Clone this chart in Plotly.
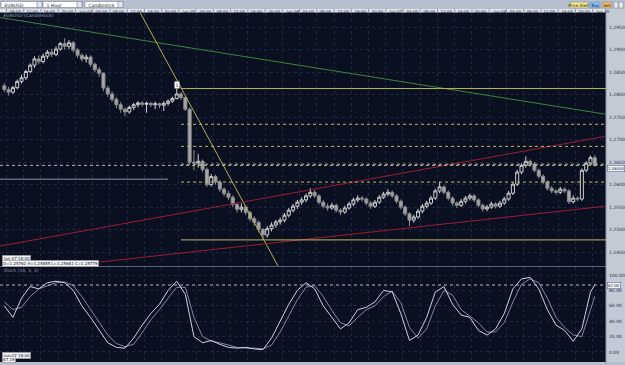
import plotly.graph_objects as go

# ---------------- data ----------------
bars = list(range(138))
opens = [1.2820,1.2812,1.2806,1.2816,1.2830,1.2838,1.2852,1.2866,1.2880,1.2874,
         1.2886,1.2895,1.2890,1.2902,1.2914,1.2908,1.2916,1.2900,1.2888,1.2880,
         1.2884,1.2868,1.2856,1.2848,1.2815,1.2802,1.2790,1.2778,1.2768,1.2762,
         1.2772,1.2778,1.2782,1.2779,1.2781,1.2778,1.2780,1.2777,1.2781,1.2786,
         1.2792,1.2802,1.2794,1.2768,1.2650,1.2648,1.2652,1.2634,1.2600,1.2618,
         1.2606,1.2590,1.2580,1.2572,1.2556,1.2545,1.2550,1.2538,1.2524,1.2516,
         1.2500,1.2488,1.2502,1.2510,1.2517,1.2521,1.2532,1.2543,1.2552,1.2561,
         1.2566,1.2575,1.2583,1.2575,1.2561,1.2552,1.2548,1.2554,1.2543,1.2539,
         1.2548,1.2557,1.2566,1.2570,1.2568,1.2559,1.2552,1.2561,1.2572,1.2579,
         1.2583,1.2575,1.2563,1.2550,1.2535,1.2521,1.2528,1.2541,1.2552,1.2559,
         1.2570,1.2586,1.2595,1.2583,1.2570,1.2559,1.2554,1.2563,1.2570,1.2575,
         1.2566,1.2554,1.2546,1.2550,1.2557,1.2552,1.2559,1.2568,1.2581,1.2601,
         1.2628,1.2643,1.2652,1.2646,1.2632,1.2619,1.2606,1.2592,1.2586,1.2583,
         1.2590,1.2586,1.2562,1.2570,1.2568,1.2632,1.2648,1.2660]
highs = [1.2826,1.2818,1.2820,1.2834,1.2845,1.2856,1.2870,1.2886,1.2888,1.2892,
         1.2900,1.2903,1.2908,1.2918,1.2926,1.2922,1.2920,1.2904,1.2893,1.2890,
         1.2888,1.2872,1.2862,1.2850,1.2820,1.2808,1.2795,1.2784,1.2772,1.2776,
         1.2782,1.2786,1.2786,1.2785,1.2784,1.2785,1.2783,1.2786,1.2790,1.2796,
         1.2814,1.2806,1.2796,1.2772,1.2677,1.2668,1.2656,1.2638,1.2624,1.2622,
         1.2610,1.2594,1.2586,1.2576,1.2560,1.2558,1.2554,1.2542,1.2530,1.2520,
         1.2504,1.2508,1.2516,1.2522,1.2527,1.2537,1.2548,1.2557,1.2566,1.2572,
         1.2580,1.2592,1.2588,1.2579,1.2566,1.2558,1.2560,1.2558,1.2547,1.2553,
         1.2562,1.2571,1.2576,1.2575,1.2572,1.2563,1.2566,1.2577,1.2584,1.2590,
         1.2587,1.2579,1.2567,1.2554,1.2539,1.2533,1.2546,1.2557,1.2564,1.2575,
         1.2591,1.2606,1.2599,1.2587,1.2574,1.2563,1.2568,1.2575,1.2580,1.2579,
         1.2570,1.2558,1.2555,1.2562,1.2561,1.2564,1.2573,1.2586,1.2606,1.2633,
         1.2648,1.2663,1.2656,1.2650,1.2636,1.2623,1.2610,1.2597,1.2590,1.2595,
         1.2594,1.2590,1.2576,1.2574,1.2636,1.2652,1.2665,1.2666]
lows = [1.2806,1.2798,1.2802,1.2812,1.2825,1.2833,1.2848,1.2860,1.2868,1.2870,
        1.2880,1.2884,1.2886,1.2898,1.2900,1.2902,1.2894,1.2882,1.2874,1.2872,
        1.2862,1.2850,1.2840,1.2808,1.2795,1.2784,1.2770,1.2760,1.2752,1.2758,
        1.2766,1.2772,1.2774,1.2760,1.2773,1.2768,1.2770,1.2764,1.2776,1.2782,
        1.2790,1.2788,1.2764,1.2645,1.2632,1.2638,1.2628,1.2595,1.2596,1.2600,
        1.2584,1.2574,1.2566,1.2550,1.2538,1.2538,1.2532,1.2518,1.2508,1.2494,
        1.2477,1.2482,1.2496,1.2504,1.2511,1.2516,1.2527,1.2538,1.2546,1.2555,
        1.2561,1.2570,1.2570,1.2556,1.2547,1.2542,1.2544,1.2538,1.2532,1.2535,
        1.2544,1.2552,1.2561,1.2562,1.2554,1.2546,1.2548,1.2557,1.2568,1.2574,
        1.2570,1.2558,1.2545,1.2530,1.2508,1.2515,1.2524,1.2536,1.2547,1.2555,
        1.2566,1.2581,1.2578,1.2565,1.2553,1.2548,1.2550,1.2558,1.2565,1.2561,
        1.2549,1.2540,1.2541,1.2546,1.2547,1.2548,1.2555,1.2564,1.2577,1.2597,
        1.2623,1.2638,1.2640,1.2627,1.2614,1.2601,1.2587,1.2581,1.2578,1.2579,
        1.2581,1.2557,1.2558,1.2563,1.2564,1.2628,1.2644,1.2640]
closes = [1.2812,1.2806,1.2816,1.2830,1.2838,1.2852,1.2866,1.2880,1.2874,1.2886,
          1.2895,1.2890,1.2902,1.2914,1.2908,1.2916,1.2900,1.2888,1.2880,1.2884,
          1.2868,1.2856,1.2848,1.2815,1.2802,1.2790,1.2778,1.2768,1.2762,1.2772,
          1.2778,1.2782,1.2779,1.2781,1.2778,1.2780,1.2777,1.2781,1.2786,1.2792,
          1.2802,1.2794,1.2768,1.2650,1.2648,1.2652,1.2634,1.2600,1.2618,1.2606,
          1.2590,1.2580,1.2572,1.2556,1.2545,1.2550,1.2538,1.2524,1.2516,1.2500,
          1.2488,1.2502,1.2510,1.2517,1.2521,1.2532,1.2543,1.2552,1.2561,1.2566,
          1.2575,1.2583,1.2575,1.2561,1.2552,1.2548,1.2554,1.2543,1.2539,1.2548,
          1.2557,1.2566,1.2570,1.2568,1.2559,1.2552,1.2561,1.2572,1.2579,1.2583,
          1.2575,1.2563,1.2550,1.2535,1.2521,1.2528,1.2541,1.2552,1.2559,1.2570,
          1.2586,1.2595,1.2583,1.2570,1.2559,1.2554,1.2563,1.2570,1.2575,1.2566,
          1.2554,1.2546,1.2550,1.2557,1.2552,1.2559,1.2568,1.2581,1.2601,1.2628,
          1.2643,1.2652,1.2646,1.2632,1.2619,1.2606,1.2592,1.2586,1.2583,1.2590,
          1.2586,1.2562,1.2570,1.2568,1.2632,1.2648,1.2660,1.2643]

stoch_x = [0,2,4,6,8,10,12,14,16,18,20,22,24,26,28,30,32,34,36,38,40,42,44,46,48,
           50,52,54,56,58,60,62,64,66,68,70,72,74,76,78,80,82,84,86,88,90,92,94,96,
           98,100,102,104,106,108,110,112,114,116,118,120,122,124,126,128,130,132,
           134,136,137]
stoch_k = [60,45,70,85,82,90,92,90,80,60,45,28,12,6,5,18,35,50,62,80,92,75,20,12,15,
           10,6,5,6,4,3,18,40,62,80,90,82,60,45,30,38,55,58,65,80,78,50,15,22,
           45,78,85,62,48,45,28,22,30,50,82,95,97,82,55,35,28,14,
           30,78,87]
stoch_d = [65,55,58,72,82,86,90,91,86,72,55,38,22,11,7,10,25,42,55,70,84,84,45,20,14,
           12,9,6,5,5,4,9,26,48,68,84,86,72,54,38,34,45,55,60,72,79,64,32,18,
           30,60,80,74,55,46,38,26,26,38,65,88,95,90,70,45,32,22,
           20,55,72]

time_labels = ["08:00","12:00","16:00","20:00","Jun 04","04:00",
               "08:00","12:00","16:00","20:00","Jun 05","04:00",
               "08:00","12:00","16:00","20:00","Jun 06","04:00",
               "08:00","12:00","16:00","20:00","Jun 07","04:00",
               "08:00","12:00","16:00","20:00","Jun 08","04:00",
               "08:00","12:00","16:00","20:00","Jun 10"]
price_ticks = [1.2950,1.2900,1.2850,1.2800,1.2750,1.2700,1.2650,1.2600,1.2550,1.2500,1.2450]
stoch_ticks = [100,80,60,40,20,0]

# drawn objects (bar index, price)
green_line = [(-1, 1.29722), (139.6, 1.27567)]
yellow_line = [(31.5, 1.29833), (63.5, 1.24189)]
red_line1 = [(-1, 1.24633), (139.6, 1.27078)]
red_line2 = [(13.85, 1.24189), (139.6, 1.25522)]
left_level = [(-1, 1.26122), (38, 1.26122)]
fib_start_bar = 41
fib_high = 1.28140
fib_low = 1.24770
fib_ratios = [0.0, 0.236, 0.382, 0.5, 0.618, 1.0]
stoch_period = "Stoch (14, 3, 3)"

# ---------------- layout helpers ----------------
W, H = 625, 365
X_RANGE = [-1, 139.6]
def px(p):
    return p / W
def py(p):
    return 1 - p / H

BG = "#0b1021"
GRID = "#1c2640"
FONT = "DejaVu Sans"

fig = go.Figure()
fig.add_trace(go.Candlestick(
    x=bars, open=opens, high=highs, low=lows, close=closes,
    increasing=dict(line=dict(color="#d0d0d0", width=1), fillcolor=BG),
    decreasing=dict(line=dict(color="#8e8e8e", width=1), fillcolor="#a8a8a8"),
    whiskerwidth=0, xaxis="x", yaxis="y", hoverinfo="skip", showlegend=False))

fig.add_trace(go.Scatter(x=stoch_x, y=stoch_d, mode="lines", line=dict(color="#7f88a8", width=1),
                         xaxis="x2", yaxis="y2", showlegend=False, hoverinfo="skip"))
fig.add_trace(go.Scatter(x=stoch_x, y=stoch_k, mode="lines", line=dict(color="#cfd2de", width=1),
                         xaxis="x2", yaxis="y2", showlegend=False, hoverinfo="skip"))

grid_x = [4 * k + 0.5 for k in range(len(time_labels))]

shapes = []
# background panels
shapes.append(dict(type="rect", xref="paper", yref="paper", x0=0, x1=1, y0=py(9), y1=1,
                   fillcolor="#b7bfce", line=dict(width=0), layer="below"))
shapes.append(dict(type="rect", xref="paper", yref="paper", x0=0, x1=px(606), y0=py(12.5), y1=py(9),
                   fillcolor="#dfe3ea", line=dict(width=0), layer="below"))
shapes.append(dict(type="rect", xref="paper", yref="paper", x0=px(606), x1=1, y0=0, y1=py(9),
                   fillcolor="#c4c9d6", line=dict(width=0), layer="below"))
shapes.append(dict(type="rect", xref="paper", yref="paper", x0=0, x1=1, y0=0, y1=py(362),
                   fillcolor="#b7bfce", line=dict(width=0), layer="below"))
shapes.append(dict(type="line", xref="paper", yref="paper", x0=0, x1=px(606), y0=py(266.5), y1=py(266.5),
                   line=dict(color="#59627c", width=1)))
shapes.append(dict(type="line", xref="paper", yref="paper", x0=px(606), x1=px(606), y0=0, y1=py(9),
                   line=dict(color="#8e95a8", width=1)))
# header separators
for gx in grid_x:
    shapes.append(dict(type="line", xref="x", yref="paper", x0=gx, x1=gx, y0=py(12.5), y1=py(9),
                       line=dict(color="#8d94a6", width=1)))
# toolbar boxes
for (a, b) in [(1, 42), (43, 82), (85, 123)]:
    shapes.append(dict(type="rect", xref="paper", yref="paper", x0=px(a), x1=px(b), y0=py(7.5), y1=py(1.5),
                       fillcolor="#ffffff", line=dict(color="#7b8296", width=0.6)))
    shapes.append(dict(type="rect", xref="paper", yref="paper", x0=px(b - 5), x1=px(b), y0=py(7.5), y1=py(1.5),
                       fillcolor="#e3e6ee", line=dict(color="#7b8296", width=0.6)))
for (a, b, c) in [(570, 588, "#f3e58a"), (590, 600, "#7fc0f2"), (602, 612, "#f3b86a"),
                  (614, 618, "#e9ebf0"), (619, 623, "#e9ebf0")]:
    shapes.append(dict(type="rect", xref="paper", yref="paper", x0=px(a), x1=px(b), y0=py(8), y1=py(2),
                       fillcolor=c, line=dict(color="#8a8f9e", width=0.6)))

def seg(pts, color, width=1, dash="solid"):
    (x0, y0), (x1, y1) = pts
    return dict(type="line", xref="x", yref="y", x0=x0, y0=y0, x1=x1, y1=y1,
                line=dict(color=color, width=width, dash=dash))

shapes.append(seg(green_line, "#3d8638"))
shapes.append(seg(yellow_line, "#b3ae58"))
shapes.append(seg(red_line1, "#9a1e32"))
shapes.append(seg(red_line2, "#9a1e32"))
shapes.append(seg(left_level, "#8e94a4"))
for r in fib_ratios:
    lvl = fib_high - (fib_high - fib_low) * r
    solid = r in (0.0, 1.0)
    shapes.append(seg([(fib_start_bar, lvl), (X_RANGE[1], lvl)], "#bdb862", 1, "solid" if solid else "dot"))
# current price line
shapes.append(seg([(X_RANGE[0], closes[-1]), (X_RANGE[1], closes[-1])], "#b4b8c6", 1, "dot"))
# stoch current line
shapes.append(dict(type="line", xref="x2", yref="y2", x0=X_RANGE[0], x1=X_RANGE[1],
                   y0=stoch_k[-1], y1=stoch_k[-1], line=dict(color="#b4b8c6", width=1, dash="dot")))

annotations = []
def txt(x, y, s, size=5, color="#222", xref="paper", yref="paper", xanchor="left", bg=None, border=None,
        yanchor="middle"):
    d = dict(x=x, y=y, xref=xref, yref=yref, text=s, showarrow=False, xanchor=xanchor, yanchor=yanchor,
             font=dict(family=FONT, size=size, color=color), borderpad=0.5)
    if bg:
        d["bgcolor"] = bg
    if border:
        d["bordercolor"] = border
        d["borderwidth"] = 0.6
    annotations.append(d)

for gx, lab in zip(grid_x, time_labels):
    txt(gx + 0.35, py(10.8), lab, size=4, color="#2a2f3c", xref="x")
txt(px(3), py(4.5), "EURUSD", size=4.5)
txt(px(45), py(4.5), "1 Hour", size=4.5)
txt(px(87), py(4.5), "Candlestick", size=4.5)
txt(px(579), py(5), "Price Alert", size=4, xanchor="center")
txt(px(595), py(5), "Buy", size=4, xanchor="center")
txt(px(607), py(5), "Sell", size=4, xanchor="center")
txt(px(2), py(15.5), "EURUSD (Candlestick)", size=4.5, color="#9aa3b8")
txt(px(2), py(258.5), "Jun 07 18:00", size=4, color="#111", bg="#f2f3f6", border="#888")
txt(px(2), py(263.5), "O=1.25762 H=1.25855 L=1.25681 C=1.25779", size=4, color="#111", bg="#f2f3f6", border="#888")
txt(px(2), py(270), stoch_period, size=4.5, color="#8d97b3")
txt(px(2), py(355), "Jun 07 18:00", size=4, color="#111", bg="#f2f3f6", border="#888")
txt(px(2), py(359.5), "87.19", size=4, color="#111", bg="#f2f3f6", border="#888")
# current value labels (sit just below the tick label they follow)
txt(px(607), closes[-1], "%.5f" % closes[-1], size=3.8, color="#111", yref="y", bg="#eef1f8",
    border="#5a6a90", yanchor="top")
txt(px(607), stoch_k[-1], "%.2f" % stoch_k[-1], size=3.8, color="#111", yref="y2", bg="#eef1f8",
    border="#5a6a90")
# "1" marker at swing high
txt(40, highs[40] + 0.0008, "1", size=4.5, color="#000", xref="x", yref="y", xanchor="center", bg="#ffffff")

axis_common = dict(showline=False, zeroline=False, ticks="", fixedrange=True)
fig.update_layout(
    width=W, height=H, margin=dict(l=0, r=0, t=0, b=0),
    paper_bgcolor=BG, plot_bgcolor=BG, showlegend=False, boxgap=0.3, boxgroupgap=0,
    font=dict(family=FONT, size=5, color="#222"),
    xaxis=dict(domain=[0, px(606)], range=X_RANGE, anchor="y", tickvals=grid_x, showticklabels=False,
               showgrid=True, gridcolor=GRID, griddash="dot", gridwidth=1,
               rangeslider=dict(visible=False), **axis_common),
    xaxis2=dict(domain=[0, px(606)], range=X_RANGE, anchor="y2", matches="x", tickvals=grid_x,
                showticklabels=False, showgrid=True, gridcolor=GRID, griddash="dot", gridwidth=1, **axis_common),
    yaxis=dict(domain=[py(266), py(12.5)], range=[1.241889, 1.298333], anchor="x", side="right",
               tickvals=price_ticks, ticktext=["%.4f" % t for t in price_ticks],
               tickfont=dict(size=4.5, color="#2a2f3c"), showgrid=True, gridcolor=GRID, griddash="dot",
               ticklabelstandoff=2, **axis_common),
    yaxis2=dict(domain=[py(362), py(267)], range=[-13, 110.4], anchor="x2", side="right",
                tickvals=stoch_ticks, ticktext=["%.2f" % t for t in stoch_ticks],
                tickfont=dict(size=4.5, color="#2a2f3c"), showgrid=True, gridcolor=GRID, griddash="dot",
                ticklabelstandoff=2, **axis_common),
    shapes=shapes, annotations=annotations,
)

fig.write_html("out.html")
